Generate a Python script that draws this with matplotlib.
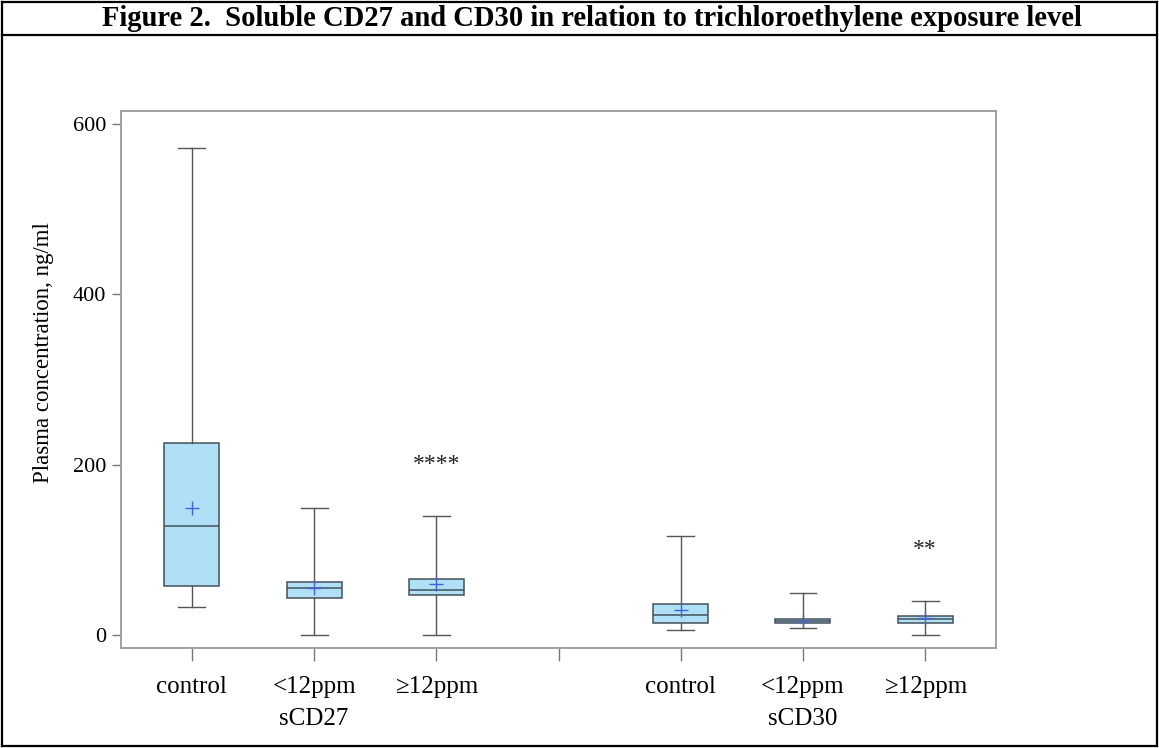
import matplotlib
matplotlib.use("Agg")
import matplotlib.pyplot as plt
from matplotlib.lines import Line2D

# ---- values ---------------------------------------------------------------------
groups = ["sCD27", "sCD30"]
levels = ["control", "<12ppm", "\u226512ppm"]
box_pos = [1, 2, 3, 5, 6, 7]

whislo = [33, 0, 0, 5.5, 8, 0]
q1 = [58, 43, 47, 14, 13.7, 13.7]
med = [128, 55, 53, 23, 16, 19]
q3 = [225, 62, 66, 36.5, 19, 22.7]
whishi = [572, 149, 140, 116, 49, 39.5]
means = [149, 55.5, 59.5, 29, 16.5, 20]

stars = ["****", "**"]
star_pos = [3, 7]
star_y = [200, 100]

plt.rcParams["font.family"] = ["Liberation Serif", "DejaVu Serif"]

fig = plt.figure(figsize=(11.59, 7.48), dpi=100)
ax = fig.add_axes([0.1044, 0.1337, 0.755, 0.7179])

stats = []
for i in range(len(box_pos)):
    stats.append(dict(whislo=whislo[i], q1=q1[i], med=med[i], q3=q3[i],
                      whishi=whishi[i], mean=means[i], fliers=[]))

ax.bxp(stats, positions=box_pos, widths=0.45, patch_artist=True,
       showmeans=True, showfliers=False,
       boxprops=dict(facecolor="#b0e0f5", edgecolor="#46505a", lw=1.1),
       medianprops=dict(color="#46505a", lw=1.1),
       whiskerprops=dict(color="#555555", lw=1.0),
       capprops=dict(color="#555555", lw=1.0),
       capwidths=0.22,
       meanprops=dict(marker="+", markeredgecolor="#3f63e0", markersize=10,
                      markeredgewidth=1.0))

for s, x, y in zip(stars, star_pos, star_y):
    ax.text(x, y, s, ha="center", va="center", fontsize=17, color="#222222")

ax.set_xlim(0.42, 7.58)
ax.set_ylim(-15.3, 615.4)
ax.set_yticks([0, 200, 400, 600])
ax.set_xticks([1, 2, 3, 4, 5, 6, 7])
ax.set_xticklabels(levels + [""] + levels)
for sp in ax.spines.values():
    sp.set_color("#9a9a9a")
    sp.set_linewidth(1.3)
ax.tick_params(axis="y", length=6.5, width=1.0, color="#777777", labelsize=16, pad=4)
ax.tick_params(axis="x", length=9, width=1.0, color="#777777", labelsize=18, pad=11)
ax.set_ylabel("Plasma concentration, ng/ml", fontsize=16.5)
ax.yaxis.set_label_coords(-0.077, 0.55)

# group labels under the tick labels
for gname, xc in zip(groups, [2, 6]):
    ax.text(xc, -0.133, gname, transform=ax.get_xaxis_transform(),
            ha="center", va="center", fontsize=18)

# title band and outer frame
W, H = 1159, 748
fig.text(592 / W, 1 - 18 / H, "Figure 2.  Soluble CD27 and CD30 in relation to trichloroethylene exposure level",
         ha="center", va="center", fontsize=20.6, fontweight="bold")
for (x0, y0, x1, y1) in [(2, 2, 1157, 2), (2, 34.5, 1157, 34.5), (2, 746, 1157, 746),
                         (2, 2, 2, 746), (1157, 2, 1157, 746)]:
    fig.add_artist(Line2D([x0 / W, x1 / W], [1 - y0 / H, 1 - y1 / H], color="black",
                          lw=1.6, transform=fig.transFigure))

plt.savefig("out.png", dpi=100)
